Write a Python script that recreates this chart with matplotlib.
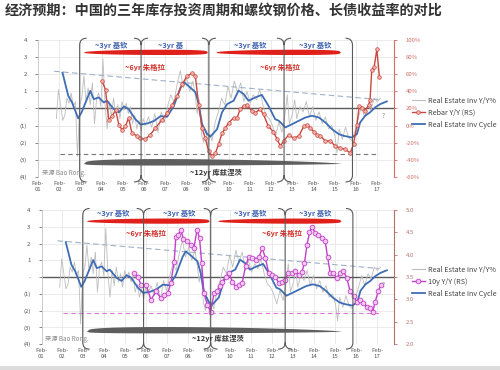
import numpy as np
import matplotlib
matplotlib.use('Agg')
import matplotlib.pyplot as plt
from matplotlib.path import Path
from matplotlib.patches import PathPatch, Polygon, Rectangle
from matplotlib.lines import Line2D

plt.rcParams['font.family'] = ['Noto Sans CJK SC', 'DejaVu Sans']

title = '经济预期：中国的三年库存投资周期和螺纹钢价格、长债收益率的对比'
years = list(range(2001, 2018))
xtick_labels = ['Feb-\n%02d' % (y % 100) for y in years]
left_ticks = [-4, -3, -2, -1, 0, 1, 2, 3, 4]
left_labels = ['(4)', '(3)', '(2)', '(1)', '-', '1', '2', '3', '4']

# Real Estate Inv Cycle (left axis)
cycle_x = [2002.24, 2002.51, 2002.69, 2002.98, 2003.14, 2003.55, 2003.72, 2003.95, 2004.19, 2004.34,
           2004.66, 2004.9, 2005.14, 2005.36, 2005.68, 2005.93, 2006.24, 2006.55, 2006.87, 2007.18,
           2007.49, 2007.81, 2007.96, 2008.2, 2008.52, 2008.67, 2008.83, 2009.07, 2009.22, 2009.54,
           2009.77, 2010.01, 2010.32, 2010.55, 2010.79, 2011.02, 2011.34, 2011.65, 2011.96, 2012.28,
           2012.45, 2012.76, 2013.08, 2013.4, 2013.71, 2014.02, 2014.34, 2014.65, 2014.96, 2015.28,
           2015.51, 2015.9, 2016.14, 2016.29, 2016.53, 2016.76, 2017.0, 2017.24, 2017.55]
cycle_y = [2.09, 0.74, 0.35, -0.58, -0.23, 1.02, 0.54, 0.64, 0.35, 0.45,
           -0.04, -0.23, 0.12, -0.04, -0.63, -0.94, -0.88, -0.74, -0.45, -0.49,
           0.13, 1.21, 1.54, 1.30, 0.94, 0.25, -0.92, -1.50, -1.65, -1.21,
           -0.23, 0.25, 0.45, 1.04, 0.84, 0.45, 0.64, 0.79, 0.16, -0.63,
           -0.72, -1.11, -0.92, -0.72, -0.53, -0.43, -0.53, -0.82, -1.21, -1.50,
           -1.60, -1.70, -1.50, -0.82, -0.43, -0.23, 0.06, 0.25, 0.41]

# Real Estate Inv Y/Y% (left axis, noisy)
yoy_x = [2001.95, 2002.05, 2002.15, 2002.25, 2002.35, 2002.45, 2002.55, 2002.65, 2002.75, 2002.85,
         2002.95, 2003.05, 2003.15, 2003.25, 2003.35, 2003.45, 2003.55, 2003.65, 2003.75, 2003.85,
         2003.95, 2004.05, 2004.15, 2004.25, 2004.35, 2004.45, 2004.55, 2004.65, 2004.75, 2004.85,
         2004.95, 2005.05, 2005.15, 2005.25, 2005.35, 2005.45, 2005.55, 2005.65, 2005.75, 2005.85,
         2005.95, 2006.05, 2006.15, 2006.3, 2006.45, 2006.6, 2006.75, 2006.9, 2007.05, 2007.2,
         2007.35, 2007.5, 2007.65, 2007.8, 2007.95, 2008.1, 2008.25, 2008.4, 2008.5, 2008.6,
         2008.7, 2008.8, 2008.9, 2009.0, 2009.1, 2009.2, 2009.3, 2009.45, 2009.6, 2009.75,
         2009.9, 2010.05, 2010.2, 2010.35, 2010.5, 2010.65, 2010.8, 2010.95, 2011.1, 2011.25,
         2011.4, 2011.55, 2011.7, 2011.85, 2012.0, 2012.15, 2012.3, 2012.45, 2012.6, 2012.75,
         2012.85, 2012.95, 2013.1, 2013.2, 2013.3, 2013.45, 2013.6, 2013.75, 2013.9, 2014.05,
         2014.2, 2014.35, 2014.5, 2014.65, 2014.8, 2014.95, 2015.1, 2015.2, 2015.3, 2015.45,
         2015.6, 2015.75, 2015.9, 2016.05, 2016.2, 2016.35, 2016.5, 2016.65, 2016.8, 2016.95,
         2017.1, 2017.25]
yoy_y = [-0.6, 1.1, 0.2, -0.7, -0.4, 0.6, 0.3, 0.9, 0.1, 0.4,
         -2.8, 0.2, 0.6, 1.9, 0.4, 1.2, 0.2, 1.5, -0.9, 0.6,
         0.9, 0.1, 2.9, 0.2, -1.2, 0.4, -0.5, 0.6, -0.3, 0.2,
         -0.6, 0.4, -0.1, 0.3, -0.3, 0.1, -0.9, -0.4, -1.2, -0.7,
         -1.3, -0.6, -1.0, -0.5, -1.1, -0.3, -1.4, -0.2, -0.8, 0.1,
         0.8, 0.4, 1.4, 2.2, 1.2, 1.8, 1.0, 1.6, 0.8, -0.3,
         0.5, -1.5, -2.0, -1.2, -2.2, -1.5, -1.9, -0.8, -0.2, 0.6,
         0.2, 1.3, 0.6, 1.6, 0.9, 1.5, 0.4, 1.0, 0.3, 0.8,
         0.5, 1.1, 0.2, -0.4, -0.6, -1.0, -1.6, -0.8, -1.4, -0.3,
         0.8, -0.9, -0.3, 0.5, -0.6, 0.1, -0.2, 0.4, -0.5, 0.1,
         -0.7, -0.2, -0.9, -0.5, -1.2, -1.0, -1.6, -2.6, -1.2, -1.8,
         -1.1, -1.7, -1.9, -1.3, -0.6, 0.1, -0.5, 0.2, -0.1, 0.6,
         0.4, 0.6]

# Rebar Y/Y (right axis, %)
rebar_x = [2004.11, 2004.27, 2004.42, 2004.58, 2004.75, 2004.9, 2005.05, 2005.21, 2005.36, 2005.52,
           2005.75, 2005.91, 2006.15, 2006.38, 2006.62, 2006.95, 2007.18, 2007.42, 2007.65, 2007.89,
           2008.12, 2008.36, 2008.51, 2008.67, 2008.83, 2008.98, 2009.14, 2009.3, 2009.46, 2009.61,
           2009.77, 2009.93, 2010.08, 2010.32, 2010.48, 2010.63, 2010.79, 2010.95, 2011.18, 2011.34,
           2011.57, 2011.73, 2011.96, 2012.19, 2012.37, 2012.53, 2012.68, 2012.92, 2013.16, 2013.4,
           2013.63, 2013.79, 2013.94, 2014.1, 2014.26, 2014.41, 2014.65, 2014.88, 2015.12, 2015.35,
           2015.59, 2015.82, 2015.98, 2016.14, 2016.25, 2016.37, 2016.53, 2016.69, 2016.76, 2016.84,
           2016.95, 2017.08, 2017.2]
rebar_y = [52, 42, 7, 11, 18, 1, -5, -1, 9, -9,
           -12, -15, -16, -11, -3, 7, 15, 24, 34, 48,
           58, 61, 58, 24, -3, -15, -30, -36, -32, -22,
           -9, -3, 3, 9, 9, 19, 23, 24, 17, 15,
           19, 13, -1, -7, -16, -24, -18, -11, -15, -12,
           -1, 1, -3, -7, -11, -12, -18, -18, -24, -26,
           -28, -32, -22, 1, 23, 21, 17, 24, 30, 65,
           68, 89, 57]

# 10y yield (right axis)
bond_x = [2005.51, 2005.67, 2005.83, 2006.07, 2006.3, 2006.54, 2006.78, 2006.93, 2007.1, 2007.25,
          2007.41, 2007.49, 2007.6, 2007.73, 2007.85, 2008.04, 2008.2, 2008.35, 2008.5, 2008.62,
          2008.72, 2008.83, 2008.99, 2009.15, 2009.31, 2009.47, 2009.6, 2009.71, 2009.86, 2010.02,
          2010.18, 2010.34, 2010.5, 2010.65, 2010.81, 2010.97, 2011.13, 2011.3, 2011.45, 2011.61,
          2011.76, 2011.92, 2012.08, 2012.24, 2012.39, 2012.55, 2012.7, 2012.85, 2013.03, 2013.19,
          2013.35, 2013.5, 2013.62, 2013.74, 2013.86, 2013.98, 2014.14, 2014.29, 2014.45, 2014.61,
          2014.72, 2014.85, 2015.0, 2015.16, 2015.32, 2015.48, 2015.64, 2015.8, 2015.96, 2016.12,
          2016.27, 2016.43, 2016.59, 2016.75, 2016.88, 2016.99, 2017.14, 2017.26]
bond_y = [3.59, 3.51, 3.33, 3.33, 2.99, 3.18, 3.03, 3.10, 3.14, 3.37,
          3.85, 4.41, 4.45, 4.56, 4.35, 4.30, 4.22, 4.15, 4.56, 4.37,
          3.81, 3.14, 2.88, 2.73, 3.14, 3.18, 3.30, 3.40, 3.51, 3.59,
          3.40, 3.29, 3.33, 3.37, 3.74, 3.96, 3.92, 3.89, 3.95, 4.15,
          3.92, 3.59, 3.55, 3.51, 3.37, 3.40, 3.44, 3.59, 3.59, 3.63,
          3.55, 3.62, 3.81, 4.22, 4.50, 4.63, 4.48, 4.45, 4.37, 4.30,
          3.96, 3.59, 3.59, 3.48, 3.59, 3.63, 3.48, 3.18, 3.07, 2.95,
          2.99, 2.92, 2.84, 2.81, 2.73, 2.95, 3.18, 3.33]

GRAY = '#bdbdbd'
BLUE = '#3f6db5'
TXT = '#555555'


def lens(ax, x0, x1, yc, up, down, a, b, color):
    t = np.linspace(0, 1, 100)
    f = t ** a * (1 - t) ** b
    f = f / f.max()
    xs = x0 + (x1 - x0) * t
    pts = np.column_stack([np.r_[xs, xs[::-1]], np.r_[yc + up * f, (yc - down * f)[::-1]]])
    p = Polygon(pts, closed=True, facecolor=color, edgecolor='none', clip_on=False, zorder=5)
    p.set_transform(ax.transData)
    return p


def bracket(ax, x, y0, y1, left, right, w=0.33, d=0.4):
    verts = [(x, y0 + d), (x, y1 - d)]
    codes = [Path.MOVETO, Path.LINETO]
    for side, on in ((-1, left), (1, right)):
        if on:
            verts += [(x, y1 - d), (x, y1), (x + side * w, y1)]
            codes += [Path.MOVETO, Path.CURVE3, Path.CURVE3]
            verts += [(x, y0 + d), (x, y0), (x + side * w, y0)]
            codes += [Path.MOVETO, Path.CURVE3, Path.CURVE3]
    p = PathPatch(Path(verts, codes), fill=False, edgecolor='#5a5a5a', lw=0.8,
                  clip_on=False, zorder=6)
    p.set_transform(ax.transData)
    return p


def panel(ax, right_x, right_y, right_style, right_lim, right_ticks, right_fmt, right_color,
          right_label, hline_color, kitchin, juglar, y_red, y_kit, y_jug, y_kuz):
    axr = ax.twinx()

    ax.grid(True, color='#e3e3e3', lw=0.5)
    ax.set_axisbelow(True)
    ax.axhline(0, color='#5a5a5a', lw=1.0, zorder=1)
    ax.plot(yoy_x, yoy_y, color=GRAY, lw=0.6, zorder=2)
    ax.plot(cycle_x, cycle_y, color=BLUE, lw=1.3, zorder=3)
    # trend lines
    ax.plot([2001.85, 2017.16], [2.17, 0.52], color='#9fb0c8', lw=0.8, ls=(0, (5, 3)), zorder=2)
    ax.plot([2002.1, 2017.2], [y_red[1], y_red[1]], color=hline_color, lw=0.8,
            ls=(0, (4, 3)), zorder=2)

    axr.plot(right_x, right_y, **right_style)

    ax.set_xlim(2001.15, 2017.89)
    ax.set_ylim(-4, 4)
    ax.set_xticks([y + 1 / 12 for y in years])
    ax.set_xticklabels(xtick_labels)
    ax.set_yticks(left_ticks)
    ax.set_yticklabels(left_labels)
    ax.tick_params(axis='x', length=0, labelsize=4.3, colors=TXT, pad=3)
    ax.tick_params(axis='y', length=2, width=0.5, labelsize=4.3, colors=TXT, pad=6)
    for s in ('top', 'bottom', 'right'):
        ax.spines[s].set_visible(False)
    ax.spines['left'].set_color('#c8c8c8')
    ax.spines['left'].set_linewidth(0.6)

    axr.set_ylim(*right_lim)
    axr.set_yticks(right_ticks)
    axr.set_yticklabels([right_fmt(v) for v in right_ticks])
    axr.tick_params(axis='y', length=2.5, width=0.6, labelsize=4.3, colors=right_color, pad=6)
    for s in ('top', 'bottom', 'left'):
        axr.spines[s].set_visible(False)
    axr.spines['right'].set_color(right_color)
    axr.spines['right'].set_linewidth(0.8)

    # cycle brackets
    bx = [2003.05, 2005.95, 2009.15, 2012.7, 2015.93]
    for i, x in enumerate(bx):
        axr.add_patch(bracket(ax, x, -4.3, 4.1, i > 0, i < len(bx) - 1))
    for (x0, x1) in [(2003.25, 2009.1), (2009.5, 2015.38)]:
        axr.add_patch(lens(ax, x0, x1, y_red[0], 0.17, 0.14, 0.45, 0.25, '#e0201b'))
    axr.add_patch(lens(ax, 2003.25, 2015.4, y_kuz[0], 0.28, 0.1, 0.3, 0.7, '#5e5e5e'))

    for x, s in kitchin:
        axr.text(x, y_kit, s, transform=ax.transData, ha='center', va='center',
                 fontsize=5.3, fontweight='bold', color='#3c62b0', zorder=7)
    for x in juglar:
        axr.text(x, y_jug, '~6yr 朱格拉', transform=ax.transData, ha='center', va='center',
                 fontsize=5.3, fontweight='bold', color='#d2302a', zorder=7)
    axr.text(2009.5, y_kuz[1], '~12yr 库兹涅茨', transform=ax.transData, ha='center', va='center',
             fontsize=5.3, fontweight='bold', color='#333333', zorder=7)
    axr.text(2001.25, y_kuz[1], '来源 Bao Rong.', transform=ax.transData, ha='left', va='center',
             fontsize=4.5, color='#8a8a8a', zorder=7)
    axr.text(2017.38, -0.45, '?', transform=ax.transData, ha='center', va='center',
             fontsize=4.5, color='#888888', zorder=7)

    handles = [Line2D([], [], color=GRAY, lw=0.8),
               Line2D([], [], **right_style),
               Line2D([], [], color=BLUE, lw=1.3)]
    labels = ['Real Estate Inv Y/Y%', right_label, 'Real Estate Inv Cycle']
    leg = ax.legend(handles, labels, loc='upper left', bbox_to_anchor=(1.05, 0.585),
                    frameon=False, fontsize=5.2, handlelength=1.8, handletextpad=0.4,
                    labelspacing=0.55, borderpad=0, borderaxespad=0)
    for t in leg.get_texts():
        t.set_color('#444444')
    return axr


fig = plt.figure(figsize=(5, 3.7), dpi=100)
fig.text(0.01, 0.972, title, fontsize=10.2, fontweight='bold', color='#333333',
         ha='left', va='center')
fig.patches.append(Rectangle((0, 0), 1, 0.012, transform=fig.transFigure,
                             facecolor='#dcdcdc', edgecolor='none'))

ax1 = fig.add_axes([0.076, 0.522, 0.712, 0.370])
ax2 = fig.add_axes([0.083, 0.070, 0.705, 0.362])

rebar_style = dict(color='#c8473f', lw=1.0, marker='o', markersize=2.6,
                   markerfacecolor='#f3b3ad', markeredgecolor='#c8473f', markeredgewidth=0.5)
bond_style = dict(color='#c23fc8', lw=1.0, marker='o', markersize=3.4,
                  markerfacecolor='#f2c9f0', markeredgecolor='#c23fc8', markeredgewidth=0.6)

panel(ax1, rebar_x, rebar_y, rebar_style, (-60, 100), list(range(-60, 101, 20)),
      lambda v: '%d%%' % v, '#d26d66', 'Rebar Y/Y (RS)', '#777777',
      [(2004.53, '~3yr 基钦'), (2007.35, '~3yr 基'), (2011.08, '~3yr 基钦'), (2014.19, '~3yr 基钦')],
      [2006.14, 2012.52], (3.26, -2.67), 3.7, 2.42, (-3.24, -3.75))

panel(ax2, bond_x, bond_y, bond_style, (2.0, 5.0), [2.0, 2.5, 3.0, 3.5, 4.0, 4.5, 5.0],
      lambda v: '%.1f' % v, '#b8716b', '10y Y/Y (RS)', '#d97bd6',
      [(2004.52, '~3yr 基钦'), (2007.63, '~3yr 基钦'), (2011.05, '~3yr 基钦'), (2014.14, '~3yr 基钦')],
      [2006.07, 2012.55], (3.33, -2.12), 3.83, 2.59, (-3.26, -3.68))

fig.savefig('out.png', dpi=100)
